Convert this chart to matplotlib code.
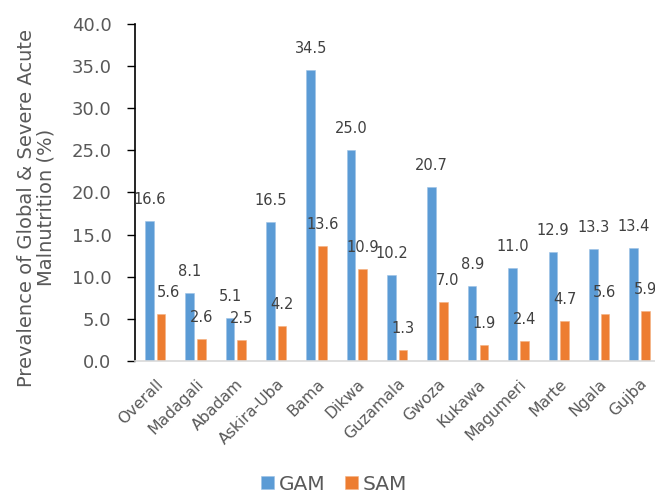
import numpy as np
import matplotlib
matplotlib.use('Agg')
import matplotlib.pyplot as plt

# --- 데이터 ---
districts = ['Overall', 'Madagali', 'Abadam', 'Askira-Uba', 'Bama', 'Dikwa', 'Guzamala',
             'Gwoza', 'Kukawa', 'Magumeri', 'Marte', 'Ngala', 'Gujba']
gam = [16.6, 8.1, 5.1, 16.5, 34.5, 25.0, 10.2, 20.7, 8.9, 11.0, 12.9, 13.3, 13.4]
sam = [5.6, 2.6, 2.5, 4.2, 13.6, 10.9, 1.3, 7.0, 1.9, 2.4, 4.7, 5.6, 5.9]
yticks = [0, 5, 10, 15, 20, 25, 30, 35, 40]

# 라벨 가로 이동 (픽셀)
sam_label_dx = [7, 0, 0, 0, 0, 0, 0, 4.5, 0, 0, 0, 0, 0]

BLUE = '#5B9BD5'
ORANGE = '#ED7D31'
TICK_GRAY = '#595959'
LABEL_GRAY = '#404040'

plt.rcParams['font.family'] = ['DejaVu Sans']

fig = plt.figure(figsize=(6.55, 4.96), dpi=100)
ax = fig.add_axes([0.2061, 0.2722, 0.8009, 0.6794])

x = np.arange(len(districts))
w = 0.215
b1 = ax.bar(x - 0.145, gam, w, color=BLUE, edgecolor='#9DC3E6', linewidth=0.4, label='GAM')
b2 = ax.bar(x + 0.145, sam, w, color=ORANGE, edgecolor='#F4B183', linewidth=0.4, label='SAM')

for i, r in enumerate(b1):
    ax.annotate(f'{gam[i]:.1f}', (r.get_x() + r.get_width() / 2, r.get_height()),
                xytext=(0, 15.5), textcoords='offset points', ha='center', va='center',
                fontsize=10.5, color=LABEL_GRAY, annotation_clip=False)
for i, r in enumerate(b2):
    ax.annotate(f'{sam[i]:.1f}', (r.get_x() + r.get_width() / 2, r.get_height()),
                xytext=(sam_label_dx[i] * 0.72, 15.5), textcoords='offset points',
                ha='center', va='center', fontsize=10.5, color=LABEL_GRAY,
                annotation_clip=False)

ax.set_xlim(-0.5, len(districts) - 0.5)
ax.set_ylim(0, 40)
ax.set_yticks(yticks)
ax.set_yticklabels([f'{v:.1f}' for v in yticks], fontsize=13, color=TICK_GRAY)
ax.set_xticks(x)
ax.set_xticklabels(districts, rotation=45, ha='right', rotation_mode='anchor',
                   fontsize=11.3, color=TICK_GRAY)
ax.tick_params(axis='x', length=0, pad=11)
ax.tick_params(axis='y', length=6, width=1, direction='out', pad=11, color='black')

for s in ['top', 'right']:
    ax.spines[s].set_visible(False)
ax.spines['left'].set_color('black')
ax.spines['left'].set_linewidth(1.2)
ax.spines['bottom'].set_color('#D9D9D9')
ax.spines['bottom'].set_linewidth(1.2)

ax.set_ylabel('Prevalence of Global & Severe Acute\nMalnutrition (%)', fontsize=14,
              color=TICK_GRAY, linespacing=1.0)
ax.yaxis.set_label_coords(-0.152, 0.455)

fig.legend(handles=[b1, b2], labels=['GAM', 'SAM'], loc='center', bbox_to_anchor=(0.51, 0.024),
           ncol=2, frameon=False, fontsize=14.5, labelcolor=TICK_GRAY, handlelength=0.65,
           handleheight=0.65, handletextpad=0.2, columnspacing=1.0, borderpad=0)

fig.savefig('out.png', dpi=100)
